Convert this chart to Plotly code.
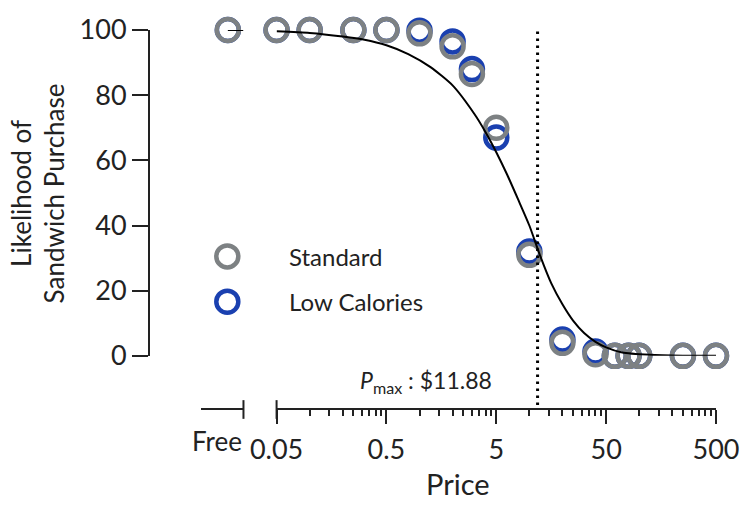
import numpy as np
import plotly.graph_objects as go

# ---- data ----
free_standard = [100]
free_low_cal = [100]
free_price = [0]

prices = [0.05, 0.10, 0.25, 0.50, 1, 2, 3, 5, 10, 20, 40, 60, 80, 100, 250, 500]
standard = [100, 100, 100, 100, 99, 95, 86.5, 70, 31, 4, 0.5, 0, 0, 0, 0, 0]
low_cal = [100, 100, 100, 100, 99.8, 96.5, 88, 67, 32, 5, 1.3, 0, 0, 0, 0, 0]

# fitted demand curve, sampled along the price axis
curve_price = [0.05, 0.1, 0.2, 0.316, 0.5, 0.79, 1.26, 2.0, 3.15, 3.97, 5.0, 6.3, 7.9,
               10, 12.6, 15.8, 20, 25, 31.5, 40, 50, 70, 125, 250, 500]
curve_y = [99.6, 99.1, 98.0, 97.0, 95.3, 92.6, 88.6, 83.0, 74.3, 68.8, 62.5, 55.5, 48,
           40, 30.5, 22.3, 15.8, 10.8, 7.0, 4.3, 2.6, 1.0, 0.3, 0.05, 0]
free_curve_x = [0, 1.0]
free_curve_y = [100, 100]

pmax = 11.88

x_major = [0.05, 0.5, 5, 50, 500]
x_major_text = ["0.05", "0.5", "5", "50", "500"]
x_minor = [0.05 * k * 10 ** d for d in range(4) for k in range(2, 10)]
y_ticks = [0, 20, 40, 60, 80, 100]

series_names = ["Standard", "Low Calories"]

GRAY = "#7d8183"
BLUE = "#1a40b0"
INK = "#222222"
FONT = "Lato"

W, H = 751, 508
L, R, T, B = 149, 30, 24, 99
pw, ph = W - L - R, H - T - B


def px_x(p):
    return (p - L) / pw


def px_y(p):
    return (H - B - p) / ph


fig = go.Figure()

marker_common = dict(symbol="circle-open", size=22)

# Free price points
fig.add_trace(go.Scatter(x=free_price, y=free_low_cal, mode="markers", xaxis="x", yaxis="y",
                         marker=dict(**marker_common, color=BLUE, line=dict(width=4.5, color=BLUE)),
                         cliponaxis=False, showlegend=False))
fig.add_trace(go.Scatter(x=free_price, y=free_standard, mode="markers", xaxis="x", yaxis="y",
                         marker=dict(**marker_common, color=GRAY, line=dict(width=4.5, color=GRAY)),
                         cliponaxis=False, showlegend=False))

# priced points
fig.add_trace(go.Scatter(x=prices, y=low_cal, mode="markers", xaxis="x2", yaxis="y",
                         marker=dict(**marker_common, color=BLUE, line=dict(width=4.5, color=BLUE)),
                         cliponaxis=False, showlegend=False))
fig.add_trace(go.Scatter(x=prices, y=standard, mode="markers", xaxis="x2", yaxis="y",
                         marker=dict(**marker_common, color=GRAY, line=dict(width=4.5, color=GRAY)),
                         cliponaxis=False, showlegend=False))

# demand curve
fig.add_trace(go.Scatter(x=free_curve_x, y=free_curve_y, mode="lines", xaxis="x", yaxis="y",
                         line=dict(color="black", width=2), cliponaxis=False, showlegend=False))
fig.add_trace(go.Scatter(x=curve_price, y=curve_y, mode="lines", xaxis="x2", yaxis="y",
                         line=dict(color="black", width=2, shape="spline", smoothing=0.6),
                         cliponaxis=False, showlegend=False))

# legend keys on an auxiliary unit axis
fig.add_trace(go.Scatter(x=[px_x(228), px_x(228)], y=[px_y(254), px_y(300)], mode="markers",
                         xaxis="x3", yaxis="y3",
                         marker=dict(symbol="circle-open", size=22,
                                     color=[GRAY, BLUE], line=dict(width=4.5, color=[GRAY, BLUE])),
                         cliponaxis=False, showlegend=False))

axis_line = dict(showline=True, linewidth=2, linecolor=INK, showgrid=False, zeroline=False)

fig.update_layout(
    width=W, height=H,
    margin=dict(l=L, r=R, t=T, b=B),
    paper_bgcolor="white", plot_bgcolor="rgba(0,0,0,0)",
    font=dict(family=FONT, color=INK, size=27),
    xaxis=dict(**axis_line, domain=[px_x(201.7), px_x(244.3)], range=[-1.7, 1.0],
               anchor="free", position=0, ticks="", showticklabels=False, fixedrange=True),
    xaxis2=dict(**axis_line, domain=[px_x(277.7), 1.0], type="log",
                range=[np.log10(0.05), np.log10(500)], anchor="free", position=0,
                tickmode="array", tickvals=x_major, ticktext=x_major_text,
                ticks="outside", ticklen=14, tickwidth=2, tickcolor=INK,
                tickfont=dict(size=27), ticklabelstandoff=3,
                minor=dict(tickmode="array", tickvals=x_minor, ticks="outside",
                           ticklen=6, tickwidth=2, tickcolor=INK)),
    yaxis=dict(**axis_line, domain=[px_y(355), 1.0], range=[0, 100], anchor="free", position=0,
               tickmode="array", tickvals=y_ticks, ticks="outside", ticklen=16,
               tickwidth=2, tickcolor=INK, tickfont=dict(size=27)),
    xaxis3=dict(domain=[0, 1], range=[0, 1], visible=False, anchor="y3"),
    yaxis3=dict(domain=[0, 1], range=[0, 1], visible=False, anchor="x3"),
    showlegend=False,
)

# Pmax reference line
fig.add_shape(type="line", xref="x2", yref="paper", x0=pmax, x1=pmax,
              y0=px_y(405), y1=px_y(23), line=dict(color="black", width=3, dash="2.5px,4.5px"))

# axis break marks
for xr, xv in (("x domain", 1), ("x2 domain", 0)):
    fig.add_shape(type="line", xref=xr, yref="paper", x0=xv, x1=xv,
                  y0=px_y(419), y1=px_y(400), line=dict(color=INK, width=2))

annotations = [
    dict(text="Likelihood of<br>Sandwich Purchase", textangle=-90, x=px_x(37), y=px_y(190),
         font=dict(size=26)),
    dict(text="Price", x=px_x(461), y=px_y(485), font=dict(size=29)),
    dict(text="Free", x=px_x(218), y=px_y(441), font=dict(size=26)),
    dict(text="<i>P</i><sub>max</sub> : $11.88", x=px_x(497), y=px_y(381),
         xanchor="right", font=dict(size=23)),
    dict(text=series_names[0], x=px_x(288), y=px_y(254), xanchor="left", font=dict(size=24)),
    dict(text=series_names[1], x=px_x(288), y=px_y(300), xanchor="left", font=dict(size=24)),
]
for a in annotations:
    a.setdefault("xanchor", "center")
    fig.add_annotation(xref="paper", yref="paper", yanchor="middle", showarrow=False, **a)

fig.write_html("out.html")
